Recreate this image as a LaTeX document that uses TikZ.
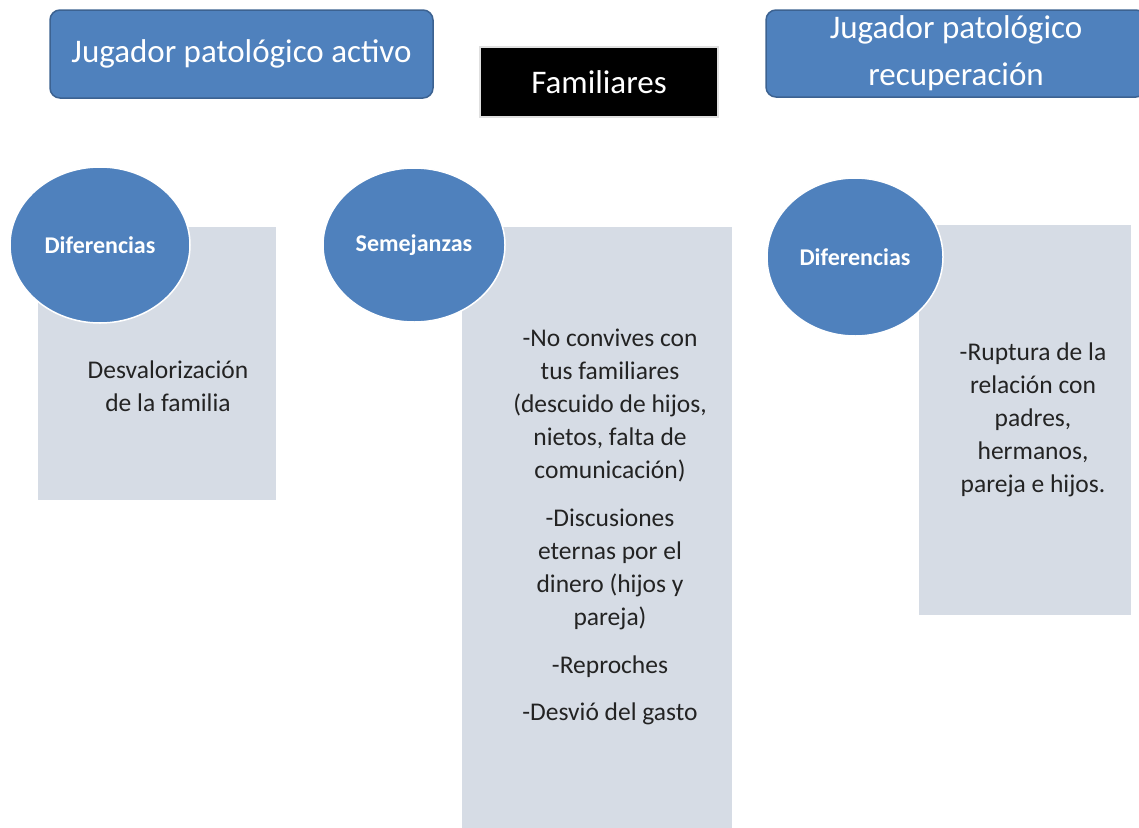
\documentclass[tikz,border=0pt]{standalone}
\usepackage{fontspec}
\setmainfont{Carlito}
\usepackage{tikz}
\usetikzlibrary{shapes.geometric,positioning}
\definecolor{headblue}{RGB}{79,129,189}
\definecolor{headedge}{RGB}{60,98,145}
\definecolor{panelgray}{RGB}{214,220,229}
\definecolor{bodytext}{RGB}{35,35,35}

\begin{document}
\begin{tikzpicture}[
        x=1pt,y=-1pt,
        head/.style={draw=headedge,line width=1.5pt,fill=headblue,
                     rounded corners=10pt,text=white,align=center,
                     font=\fontsize{33}{47}\selectfont,inner sep=0pt},
        famhead/.style={draw=black!12,line width=2pt,fill=black,
                        text=white,inner sep=0pt,
                        font=\fontsize{33}{38}\selectfont},
        panel/.style={fill=panelgray,inner sep=0pt},
        bubble/.style={ellipse,draw=white,line width=1.5pt,fill=headblue,
                       text=white,inner sep=0pt,
                       font=\bfseries\fontsize{24}{28}\selectfont},
        body/.style={text=bodytext,align=center,inner sep=0pt,
                     font=\fontsize{25.5}{33}\selectfont},
      ]
        \useasboundingbox (0,0) rectangle (1139,827);
        \clip (0,0) rectangle (1139,827);
        % headers
        \node[head,minimum width=383pt,minimum height=88pt](activo)
          at (241.5,54){Jugador patológico activo};
        \node[famhead,minimum width=238pt,minimum height=70pt](fam)
          at (599,82){Familiares};
        \node[head,minimum width=380pt,minimum height=87pt](recup)
          at (956,53.5){Jugador patológico\\recuperación};
        % panels
        \node[panel,minimum width=238pt,minimum height=273pt](p1)
          at (157,363.5){};
        \node[panel,minimum width=270pt,minimum height=603pt](p2)
          at (597,528.5){};
        \node[panel,minimum width=212pt,minimum height=390pt](p3)
          at (1025,420){};
        % bubbles
        \node[bubble,minimum width=180pt,minimum height=156pt](dif1)
          at (100,245){Diferencias};
        \node[bubble,minimum width=182pt,minimum height=154pt](sem)
          at (414,245){Semejanzas};
        \node[bubble,minimum width=176pt,minimum height=158pt](dif2)
          at (855,257){Diferencias};
        % panel texts
        \node[body](t1) at (168,386){Desvalorización\\de la familia};
        \node[body](t2) at (610,527){%
          -No convives con\\tus familiares\\(descuido de hijos,\\
          nietos, falta de\\comunicación)\\[15pt]
          -Discusiones\\eternas por el\\dinero (hijos y\\pareja)\\[15pt]
          -Reproches\\[14pt]
          -Desvió del gasto};
        \node[body](t3) at (1033,420){%
          -Ruptura de la\\relación con\\padres,\\hermanos,\\pareja e hijos.};
      \end{tikzpicture}
\end{document}
